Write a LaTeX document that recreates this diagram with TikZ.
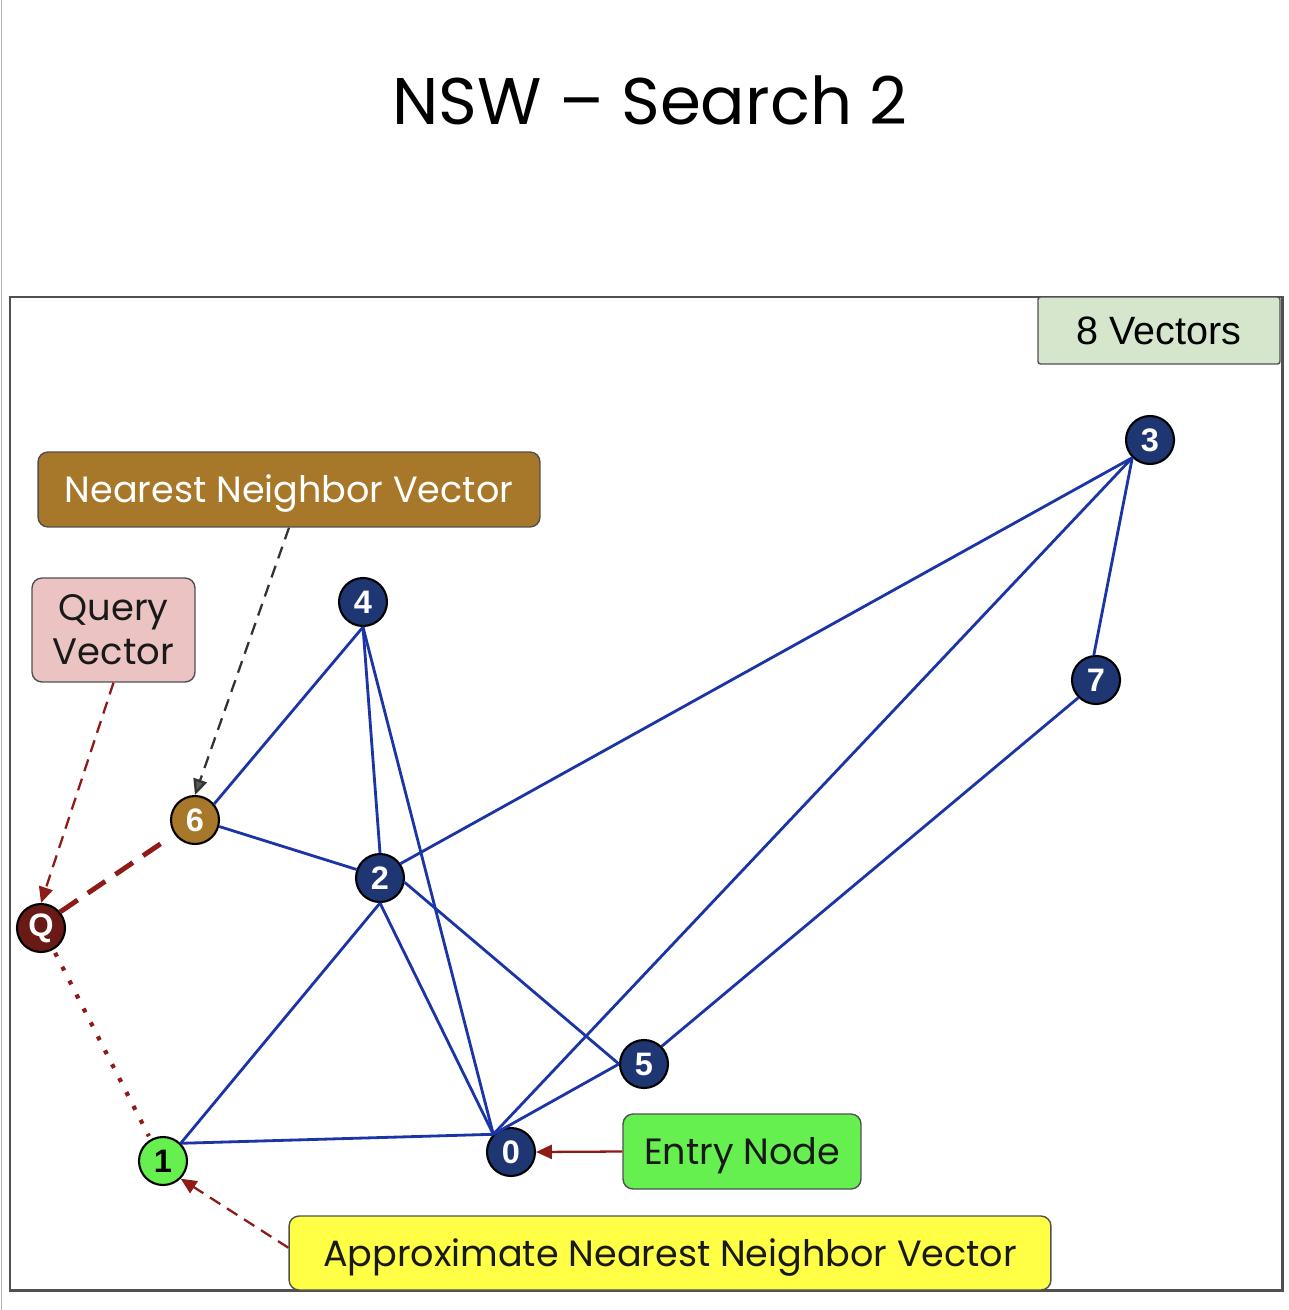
\documentclass[tikz,border=0pt]{standalone}
\usepackage{fontspec}
\setmainfont{Poppins}
\newfontfamily\arialfont{Liberation Sans}
\usetikzlibrary{arrows.meta}

\definecolor{navy}{HTML}{1E3672}
\definecolor{edgeblue}{HTML}{1C35A6}
\definecolor{gold}{HTML}{A8782A}
\definecolor{lime}{HTML}{66F04F}
\definecolor{maroon}{HTML}{6A1A16}
\definecolor{darkred}{HTML}{8E1B17}
\definecolor{pinkbox}{HTML}{EBC3C3}
\definecolor{greenbox}{HTML}{D5E6CD}
\definecolor{yellowbox}{HTML}{FFFF45}
\definecolor{framegray}{HTML}{505050}

\tikzset{
  vec/.style={circle, draw=black, line width=1.2pt, fill=navy, text=white,
    minimum size=0.96cm, inner sep=0pt, font=\arialfont\bfseries\fontsize{18.5}{18.5}\selectfont},
  link/.style={edgeblue, line width=1.6pt},
  label box/.style={draw=framegray, line width=0.8pt, rounded corners=0.2cm,
    inner sep=0pt, align=center, font=\fontsize{20.8}{27}\selectfont},
  one line/.style={text height=17pt, text depth=2pt},
  red dash/.style={darkred, line width=1.3pt, dash pattern=on 7pt off 4.5pt,
    -{Triangle[length=9pt,width=8pt]}},
}

\begin{document}
\begin{tikzpicture}[x=0.02cm, y=-0.02cm]
  \useasboundingbox (0,0) rectangle (1288,1310);
  \fill[white] (0,0) rectangle (1288,1310);
  \draw[gray!60, line width=0.8pt] (1.5,0) -- (1.5,1310);

  % title
  \node[font=\fontsize{37.5}{37.5}\selectfont] (title) at (650,100) {NSW – Search 2};

  % frame
  \draw[framegray, line width=1.7pt] (10,297) rectangle (1282,1290);

  % counter box
  \node[label box, rounded corners=0.05cm, fill=greenbox, minimum width=4.84cm, minimum height=1.34cm,
        font=\arialfont\fontsize{22.5}{22.5}\selectfont] (count) at (1159,330.5) {8 Vectors};

  % vectors
  \node[vec] (n3) at (1150,440) {3};
  \node[vec] (n4) at (363,602) {4};
  \node[vec] (n7) at (1096,680) {7};
  \node[vec, fill=gold] (n6) at (195,820) {6};
  \node[vec] (n2) at (380,878) {2};
  \node[vec, fill=maroon] (q) at (41,928) {Q};
  \node[vec] (n5) at (644,1064) {5};
  \node[vec, fill=lime, text=black] (n1) at (163,1161) {1};
  \node[vec] (n0) at (511,1152) {0};

  % graph links
  \draw[link] (n4.south) -- (n6.40);
  \draw[link] (n4.south) -- (n2.north);
  \draw[link] (n4.south) -- (n0.135);
  \draw[link] (n6.-15) -- (n2.160);
  \draw[link] (n2.35) -- (n3.225);
  \draw[link] (n2.south) -- (n1.45);
  \draw[link] (n2.south) -- (n0.135);
  \draw[link] (n2.-10) -- (n5.west);
  \draw[link] (n3.225) -- (n7.95);
  \draw[link] (n3.225) -- (n0.135);
  \draw[link] (n7.225) -- (n5.45);
  \draw[link] (n5.west) -- (n0.135);
  \draw[link] (n1.45) -- (n0.135);

  % labels
  \node[label box, one line, fill=gold, text=white, minimum width=10.04cm, minimum height=1.5cm]
    (nnv) at (289,489.5) {Nearest Neighbor Vector};
  \node[label box, fill=pinkbox, text=black!90, minimum width=3.26cm, minimum height=2.08cm,
        font=\fontsize{21}{25}\selectfont]
    (query) at (113.5,630) {Query\\Vector};
  \node[label box, one line, fill=lime, text=black!90, minimum width=4.76cm, minimum height=1.5cm]
    (entry) at (742,1151.5) {Entry Node};
  \node[label box, one line, fill=yellowbox, text=black!90, minimum width=15.24cm, minimum height=1.48cm]
    (annv) at (670,1253) {Approximate Nearest Neighbor Vector};

  % pointers
  \draw[darkred, line width=1.3pt, -{Triangle[length=9pt,width=8pt]}] (entry.west) -- (n0.east);
  \draw[red dash] (query.south) -- (q.north);
  \draw[red dash] ([yshift=3]annv.west) -- (n1.-45);
  \draw[black!80, line width=1.3pt, dash pattern=on 7pt off 4.5pt,
        -{Triangle[length=9pt,width=8pt,fill=black!65]}] (nnv.south) -- (n6.north);
  \draw[darkred, line width=2.8pt, dash pattern=on 12pt off 7pt, shorten >=8] (q.40) -- (n6.215);
  \draw[darkred, line width=2.4pt, dash pattern=on 2.4pt off 6.5pt, shorten <=2, shorten >=2] (q.-60) -- (n1.120);
\end{tikzpicture}
\end{document}
